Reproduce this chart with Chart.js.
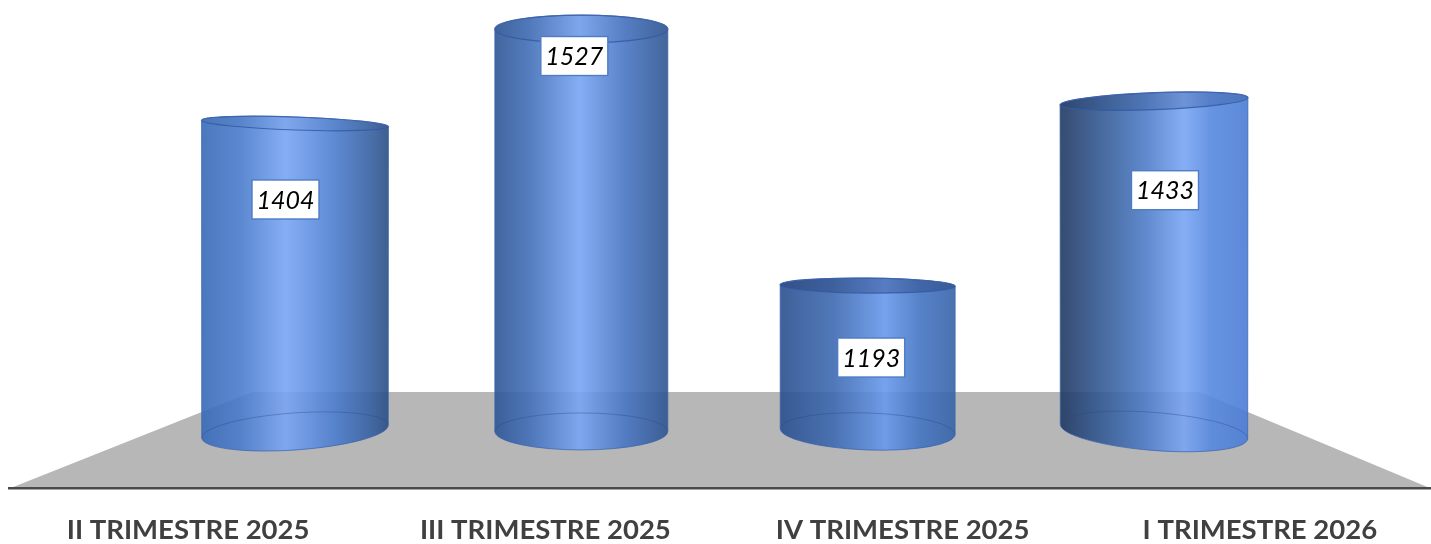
<!DOCTYPE html>
<html>
<head>
<meta charset="utf-8">
<script src="https://cdn.jsdelivr.net/npm/chart.js@4/dist/chart.umd.min.js"></script>
<style>
html,body{margin:0;padding:0;width:1431px;height:544px;overflow:hidden;background:#fff}
canvas{display:block}
</style>
</head>
<body>
<canvas id="c" width="1440" height="544"></canvas>
<script>
const categories = ["II TRIMESTRE 2025","III TRIMESTRE 2025","IV TRIMESTRE 2025","I TRIMESTRE 2026"];
const values = [1404,1527,1193,1433];
const barSlots = [0,1,2,3];

// drawing styles, per cylinder
const radiusX = [93.5,86.5,87.5,94];
const topRy = [6.5,14,7.5,8.5];
const topTilt = [2,0,0.5,-2.2];
const baseRy = [18.5,18.5,18.5,19];
const baseTilt = [-4,0,2,4.5];
const topShade = [0.05,0.06,0.34,0.22];
const labelDx = [-9.5,-7,3.5,11];
const labelDy = [76,27,72,89];
const shades = [
 [[0,'#4c79bd'],[.2,'#5a87cf'],[.45,'#86aef5'],[.72,'#5d89d2'],[.9,'#4b71ab'],[1,'#3f5f90']],
 [[0,'#43669f'],[.2,'#557dbf'],[.49,'#85aef5'],[.75,'#5a84c9'],[1,'#43659a']],
 [[0,'#3f6199'],[.3,'#5078b8'],[.6,'#76a2ee'],[.8,'#5682c8'],[1,'#4a73b0']],
 [[0,'#364c70'],[.2,'#46689a'],[.45,'#5f89cc'],[.66,'#86aef5'],[.8,'#6895e2'],[1,'#5b88d8']]
];
const ALPHA = 0.9;
function src(hex){
  const n=parseInt(hex.slice(1),16),c=[n>>16,(n>>8)&255,n&255].map(v=>Math.max(0,Math.round((v-(1-ALPHA)*255)/ALPHA)));
  return `rgba(${c[0]},${c[1]},${c[2]},${ALPHA})`;
}
const rad=d=>d*Math.PI/180;

const cylinders = {
  id:'cylinders',
  beforeDraw(chart){
    const {ctx,chartArea:a}=chart;
    ctx.save();
    ctx.fillStyle='#b7b7b7';
    ctx.beginPath();
    ctx.moveTo(a.left,a.bottom);
    ctx.lineTo(252,392);
    ctx.lineTo(1200,392);
    ctx.lineTo(1431,a.bottom);
    ctx.closePath();
    ctx.fill();
    ctx.restore();
  },
  beforeDatasetDraw(){return false;},
  afterDatasetsDraw(chart){
    const {ctx}=chart;
    const els=chart.getDatasetMeta(0).data;
    els.forEach((el,i)=>{
      const cx=el.x,yT=el.y,yB=el.base,rx=radiusX[i];
      const g=ctx.createLinearGradient(cx-rx,0,cx+rx,0);
      shades[i].forEach(s=>g.addColorStop(s[0],src(s[1])));
      ctx.save();
      // body
      ctx.beginPath();
      ctx.ellipse(cx,yB,rx,baseRy[i],rad(baseTilt[i]),Math.PI,0,true);
      ctx.ellipse(cx,yT,rx,topRy[i],rad(topTilt[i]),0,Math.PI,true);
      ctx.closePath();
      ctx.fillStyle=g;
      ctx.fill();
      // top face shading
      ctx.beginPath();
      ctx.ellipse(cx,yT,rx,topRy[i],rad(topTilt[i]),0,Math.PI*2);
      ctx.fillStyle=`rgba(25,50,105,${topShade[i]})`;
      ctx.fill();
      ctx.lineWidth=1.2;
      ctx.strokeStyle='rgba(50,90,165,0.85)';
      ctx.stroke();
      // rear arc of base
      ctx.beginPath();
      ctx.ellipse(cx,yB,rx,baseRy[i],rad(baseTilt[i]),0,Math.PI,true);
      ctx.lineWidth=1;
      ctx.strokeStyle='rgba(40,70,130,0.38)';
      ctx.stroke();
      // outline
      ctx.beginPath();
      ctx.ellipse(cx,yB,rx,baseRy[i],rad(baseTilt[i]),Math.PI,0,true);
      ctx.ellipse(cx,yT,rx,topRy[i],rad(topTilt[i]),0,Math.PI,true);
      ctx.closePath();
      ctx.lineWidth=1;
      ctx.strokeStyle='rgba(60,100,175,0.75)';
      ctx.stroke();
      // value label
      const lx=cx+labelDx[i],ly=yT+labelDy[i];
      ctx.fillStyle='#fff';
      ctx.fillRect(lx-33.5,ly-19.5,67,39);
      ctx.lineWidth=1.4;
      ctx.strokeStyle='#4f7cc4';
      ctx.strokeRect(lx-33.5,ly-19.5,67,39);
      ctx.fillStyle='#000';
      ctx.font='italic 25px Lato';
      ctx.textAlign='center';
      ctx.textBaseline='middle';
      ctx.fillText(String(values[i]),lx,ly+1);
      ctx.restore();
    });
  }
};

new Chart(document.getElementById('c'),{
  type:'bar',
  data:{
    labels:categories,
    datasets:[{
      label:'Trimestre',
      data:barSlots.map((s,i)=>({x:s,y:values[i]})),
      base:1003,
      backgroundColor:'#5b88d6',
      xAxisID:'xb',
      yAxisID:'y'
    }]
  },
  options:{
    responsive:false,
    animation:false,
    layout:{padding:{left:9.5,right:1.5,top:0,bottom:0}},
    plugins:{legend:{display:false},tooltip:{enabled:false},title:{display:false}},
    scales:{
      x:{
        type:'category',
        position:'bottom',
        offset:true,
        grid:{display:false,drawTicks:false},
        border:{display:true,color:'#4a4a4a',width:2.6},
        ticks:{
          autoSkip:false,maxRotation:0,minRotation:0,padding:25,
          color:'#404040',
          font:{family:'Lato',size:27.5,weight:'bold'}
        },
        afterFit(axis){axis.height=55.5;}
      },
      xb:{
        type:'linear',
        display:false,
        offset:false,
        position:'bottom',
        min:(9.5-295)/286.33,
        max:(1438.5-295)/286.33
      },
      y:{
        type:'linear',
        display:false,
        min:928.7,
        max:1564.8
      }
    }
  },
  plugins:[cylinders]
});
</script>
</body>
</html>
